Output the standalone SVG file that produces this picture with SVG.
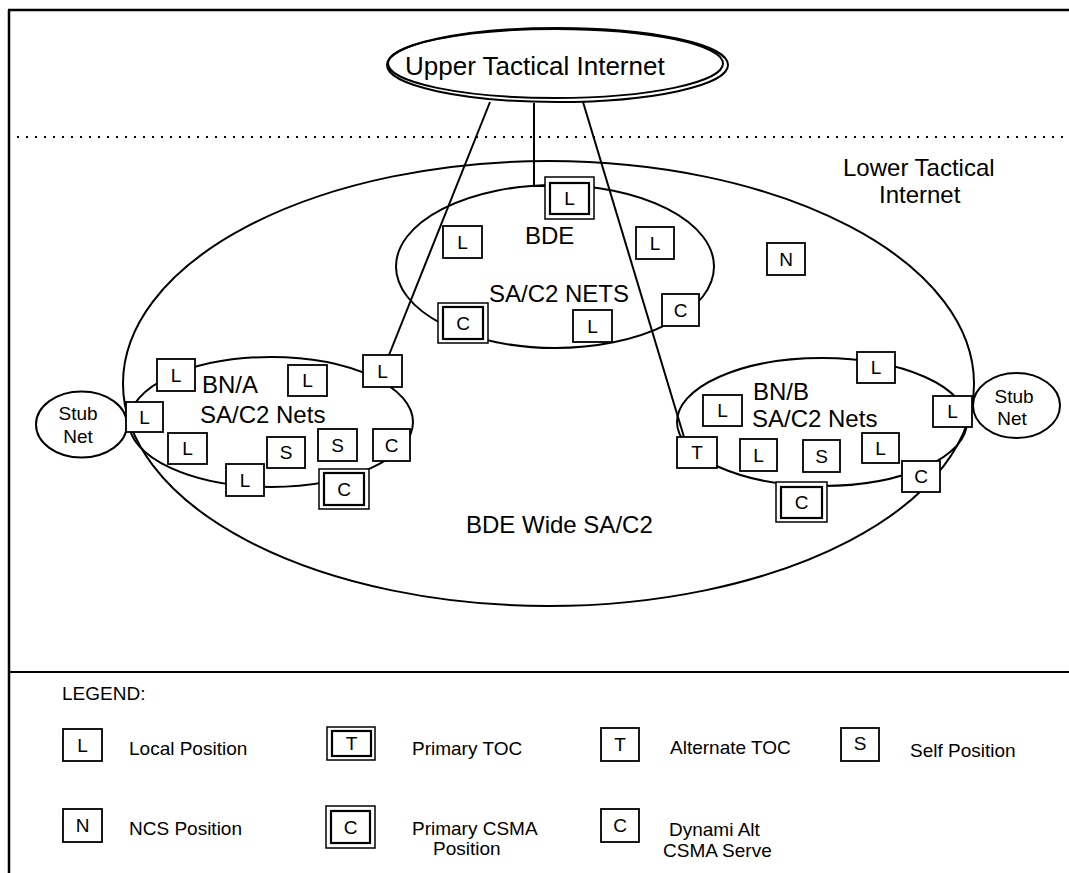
<svg xmlns="http://www.w3.org/2000/svg" width="1069" height="873" viewBox="0 0 1069 873">
<style>
.ln{fill:none;stroke:#000;stroke-width:2}
.el{fill:none;stroke:#000;stroke-width:2}
.bx{fill:#fff;stroke:#000;stroke-width:1.8}
.bi{fill:#fff;stroke:#000;stroke-width:2.2}
.bo{fill:#fff;stroke:#000;stroke-width:1.5}
.bl{font-family:"Liberation Sans",Arial,sans-serif;font-size:19px;text-anchor:middle;dominant-baseline:central;fill:#000}
.big{font-family:"Liberation Sans",Arial,sans-serif;font-size:24px;fill:#000}
.sm{font-family:"Liberation Sans",Arial,sans-serif;font-size:19px;fill:#000}
</style>
<rect x="0" y="0" width="1069" height="873" fill="#fff"/>
<g id="frame">
<line x1="9" y1="10" x2="9" y2="873" stroke="#000" stroke-width="2.5"/>
<line x1="8" y1="10" x2="1069" y2="10" stroke="#000" stroke-width="2.5"/>
<line x1="8" y1="672" x2="1069" y2="672" stroke="#000" stroke-width="2.2"/>
<line x1="8" y1="137" x2="1069" y2="137" stroke="#000" stroke-width="2" stroke-dasharray="2 7"/>
</g>
<g id="ellipses">
<ellipse class="el" cx="548.5" cy="383.5" rx="425.5" ry="222.5"/>
<ellipse class="el" cx="555" cy="266.5" rx="159" ry="81.5"/>
<ellipse class="el" cx="271" cy="422" rx="142" ry="65"/>
<ellipse class="el" cx="822" cy="422" rx="145" ry="64"/>
</g>
<g id="connectors">
<line class="ln" x1="490" y1="102" x2="389" y2="355"/>
<polyline class="ln" points="534,103 534,186 545,186"/>
<line class="ln" x1="583" y1="102" x2="684" y2="437"/>
</g>
<g id="upper-tactical-internet">
<ellipse cx="557.5" cy="65" rx="170.5" ry="37" fill="#fff" stroke="#000" stroke-width="2"/>
<ellipse cx="555.5" cy="63.5" rx="167.5" ry="34.5" fill="none" stroke="#000" stroke-width="2"/>
<text x="405" y="75" font-family="Liberation Sans, Arial, sans-serif" font-size="26" fill="#000">Upper Tactical Internet</text>
</g>
<g id="stub-net-left">
<ellipse class="el" cx="81.5" cy="424.5" rx="45.5" ry="33" fill="#fff"/>
<text class="sm" x="78" y="420" text-anchor="middle">Stub</text>
<text class="sm" x="78" y="443" text-anchor="middle">Net</text>
</g>
<g id="stub-net-right">
<ellipse class="el" cx="1016.5" cy="405.5" rx="43.5" ry="32.5" fill="#fff"/>
<text class="sm" x="1014" y="403" text-anchor="middle">Stub</text>
<text class="sm" x="1012" y="425" text-anchor="middle">Net</text>
</g>
<g id="labels">
<text class="big" x="843" y="176">Lower Tactical</text>
<text class="big" x="879" y="203">Internet</text>
<text class="big" x="466" y="533">BDE Wide SA/C2</text>
<text class="big" x="525" y="244">BDE</text>
<text class="big" x="489" y="302">SA/C2 NETS</text>
<text class="big" x="202" y="393">BN/A</text>
<text class="big" x="200" y="423">SA/C2 Nets</text>
<text class="big" x="753" y="400">BN/B</text>
<text class="big" x="752" y="427">SA/C2 Nets</text>
</g>
<g id="bde-nodes">
<g id="bde-primary-toc-L"><rect class="bo" x="545" y="177" width="49" height="42"/><rect class="bi" x="550" y="183" width="39" height="31"/><text class="bl" x="569.5" y="198.5">L</text></g>
<g id="bde-L1"><rect class="bx" x="443" y="226" width="39" height="32"/><text class="bl" x="462.5" y="242">L</text></g>
<g id="bde-L2"><rect class="bx" x="636" y="227" width="38" height="32"/><text class="bl" x="655" y="243">L</text></g>
<g id="bde-C"><rect class="bx" x="662" y="294" width="37" height="32"/><text class="bl" x="680.5" y="310">C</text></g>
<g id="bde-L3"><rect class="bx" x="573" y="310" width="39" height="32"/><text class="bl" x="592.5" y="326">L</text></g>
<g id="bde-primary-csma-C"><rect class="bo" x="438" y="303" width="50" height="40"/><rect class="bi" x="443" y="307" width="40" height="32"/><text class="bl" x="463" y="323">C</text></g>
</g>
<g id="ncs-N"><rect class="bx" x="767" y="243" width="38" height="32"/><text class="bl" x="786" y="259">N</text></g>
<g id="bna-nodes">
<g id="bna-L1"><rect class="bx" x="157" y="359" width="38" height="32"/><text class="bl" x="176" y="375">L</text></g>
<g id="bna-L2"><rect class="bx" x="288" y="365" width="39" height="31"/><text class="bl" x="307.5" y="380.5">L</text></g>
<g id="bna-L3"><rect class="bx" x="363" y="355" width="39" height="32"/><text class="bl" x="382.5" y="371">L</text></g>
<g id="bna-L4"><rect class="bx" x="126" y="402" width="37" height="30"/><text class="bl" x="144.5" y="417">L</text></g>
<g id="bna-L5"><rect class="bx" x="168" y="433" width="39" height="31"/><text class="bl" x="187.5" y="448.5">L</text></g>
<g id="bna-S1"><rect class="bx" x="267" y="437" width="38" height="31"/><text class="bl" x="286" y="452.5">S</text></g>
<g id="bna-S2"><rect class="bx" x="318" y="429" width="39" height="32"/><text class="bl" x="337.5" y="445">S</text></g>
<g id="bna-C"><rect class="bx" x="373" y="429" width="37" height="32"/><text class="bl" x="391.5" y="445">C</text></g>
<g id="bna-L6"><rect class="bx" x="226" y="464" width="38" height="32"/><text class="bl" x="245" y="480">L</text></g>
<g id="bna-primary-csma-C"><rect class="bo" x="319" y="469" width="50" height="40"/><rect class="bi" x="324" y="473" width="40" height="32"/><text class="bl" x="344" y="489">C</text></g>
</g>
<g id="bnb-nodes">
<g id="bnb-L1"><rect class="bx" x="857" y="352" width="38" height="31"/><text class="bl" x="876" y="367.5">L</text></g>
<g id="bnb-L2"><rect class="bx" x="703" y="395" width="39" height="31"/><text class="bl" x="722.5" y="410.5">L</text></g>
<g id="bnb-L3"><rect class="bx" x="933" y="396" width="39" height="31"/><text class="bl" x="952.5" y="411.5">L</text></g>
<g id="bnb-T"><rect class="bx" x="677" y="437" width="40" height="31"/><text class="bl" x="697" y="452.5">T</text></g>
<g id="bnb-L4"><rect class="bx" x="740" y="439" width="37" height="32"/><text class="bl" x="758.5" y="455">L</text></g>
<g id="bnb-S"><rect class="bx" x="803" y="440" width="37" height="32"/><text class="bl" x="821.5" y="456">S</text></g>
<g id="bnb-L5"><rect class="bx" x="862" y="433" width="37" height="30"/><text class="bl" x="880.5" y="448">L</text></g>
<g id="bnb-C"><rect class="bx" x="902" y="461" width="38" height="31"/><text class="bl" x="921" y="476.5">C</text></g>
<g id="bnb-primary-csma-C"><rect class="bo" x="776" y="482" width="51" height="40"/><rect class="bi" x="781" y="487" width="41" height="31"/><text class="bl" x="801.5" y="502.5">C</text></g>
</g>
<g id="legend">
<text class="sm" x="62" y="700">LEGEND:</text>
<g id="lg-local"><rect class="bx" x="63" y="729" width="39" height="32"/><text class="bl" x="82.5" y="745">L</text><text class="sm" x="129" y="755">Local Position</text></g>
<g id="lg-primary-toc"><rect class="bo" x="327" y="727" width="48" height="33"/><rect class="bi" x="332" y="731" width="39" height="25"/><text class="bl" x="351.5" y="743.5">T</text><text class="sm" x="412" y="755">Primary TOC</text></g>
<g id="lg-alt-toc"><rect class="bx" x="601" y="728" width="38" height="33"/><text class="bl" x="620" y="744">T</text><text class="sm" x="670" y="754">Alternate TOC</text></g>
<g id="lg-self"><rect class="bx" x="841" y="728" width="38" height="33"/><text class="bl" x="860" y="743">S</text><text class="sm" x="910" y="757">Self Position</text></g>
<g id="lg-ncs"><rect class="bx" x="63" y="809" width="39" height="33"/><text class="bl" x="82.5" y="825">N</text><text class="sm" x="129" y="835">NCS Position</text></g>
<g id="lg-primary-csma"><rect class="bo" x="326" y="806" width="49" height="42"/><rect class="bi" x="331" y="811" width="39" height="32"/><text class="bl" x="350.5" y="827">C</text><text class="sm" x="412" y="835">Primary CSMA</text><text class="sm" x="433" y="855">Position</text></g>
<g id="lg-dyn-alt"><rect class="bx" x="601" y="809" width="38" height="33"/><text class="bl" x="620" y="825">C</text><text class="sm" x="669" y="836">Dynami Alt</text><text class="sm" x="663" y="857">CSMA Serve</text></g>
</g>
</svg>
